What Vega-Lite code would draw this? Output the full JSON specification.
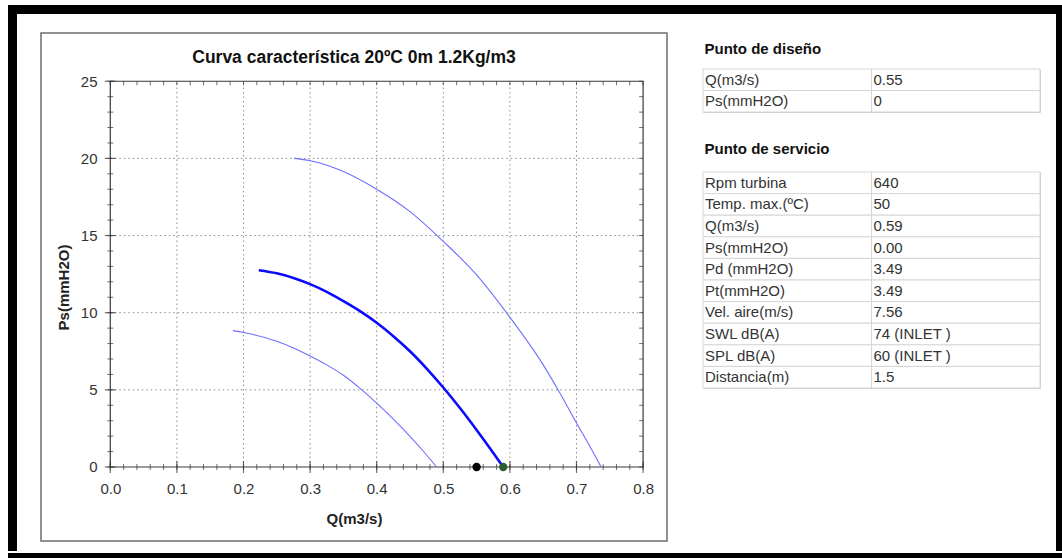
{
  "$schema": "https://vega.github.io/schema/vega-lite/v6.json",
  "background": "white",
  "padding": {"left": 8, "top": 5, "right": 0, "bottom": 0},
  "spacing": 0,
  "config": {"view": {"stroke": null}, "concat": {"spacing": 0}},
  "datasets": {
    "curves": [
      {"curve": "n1", "q": 0.184, "ps": 8.84}, {"curve": "n1", "q": 0.2, "ps": 8.72}, {"curve": "n1", "q": 0.25, "ps": 8.15}, {"curve": "n1", "q": 0.275, "ps": 7.72}, {"curve": "n1", "q": 0.3, "ps": 7.2}, {"curve": "n1", "q": 0.325, "ps": 6.62}, {"curve": "n1", "q": 0.35, "ps": 5.95}, {"curve": "n1", "q": 0.375, "ps": 5.1}, {"curve": "n1", "q": 0.4, "ps": 4.14}, {"curve": "n1", "q": 0.425, "ps": 3.1}, {"curve": "n1", "q": 0.45, "ps": 1.98}, {"curve": "n1", "q": 0.47, "ps": 1.02}, {"curve": "n1", "q": 0.49, "ps": 0},
      {"curve": "n2", "q": 0.223, "ps": 12.75}, {"curve": "n2", "q": 0.25, "ps": 12.55}, {"curve": "n2", "q": 0.275, "ps": 12.25}, {"curve": "n2", "q": 0.3, "ps": 11.85}, {"curve": "n2", "q": 0.325, "ps": 11.35}, {"curve": "n2", "q": 0.35, "ps": 10.75}, {"curve": "n2", "q": 0.375, "ps": 10.1}, {"curve": "n2", "q": 0.4, "ps": 9.35}, {"curve": "n2", "q": 0.425, "ps": 8.48}, {"curve": "n2", "q": 0.45, "ps": 7.5}, {"curve": "n2", "q": 0.475, "ps": 6.38}, {"curve": "n2", "q": 0.5, "ps": 5.15}, {"curve": "n2", "q": 0.525, "ps": 3.82}, {"curve": "n2", "q": 0.55, "ps": 2.4}, {"curve": "n2", "q": 0.57, "ps": 1.22}, {"curve": "n2", "q": 0.59, "ps": 0},
      {"curve": "n3", "q": 0.276, "ps": 20.0}, {"curve": "n3", "q": 0.3, "ps": 19.85}, {"curve": "n3", "q": 0.35, "ps": 19.15}, {"curve": "n3", "q": 0.4, "ps": 18.0}, {"curve": "n3", "q": 0.45, "ps": 16.55}, {"curve": "n3", "q": 0.5, "ps": 14.62}, {"curve": "n3", "q": 0.55, "ps": 12.45}, {"curve": "n3", "q": 0.6, "ps": 9.7}, {"curve": "n3", "q": 0.65, "ps": 6.62}, {"curve": "n3", "q": 0.675, "ps": 4.8}, {"curve": "n3", "q": 0.7, "ps": 2.85}, {"curve": "n3", "q": 0.72, "ps": 1.35}, {"curve": "n3", "q": 0.737, "ps": 0}
    ],
    "points": [
      {"punto": "diseño", "q": 0.55, "ps": 0},
      {"punto": "servicio", "q": 0.59, "ps": 0}
    ],
    "xmajor": [{"q": 0}, {"q": 0.1}, {"q": 0.2}, {"q": 0.3}, {"q": 0.4}, {"q": 0.5}, {"q": 0.6}, {"q": 0.7}, {"q": 0.8}],
    "xminor": [{"q": 0}, {"q": 0.02}, {"q": 0.04}, {"q": 0.06}, {"q": 0.08}, {"q": 0.1}, {"q": 0.12}, {"q": 0.14}, {"q": 0.16}, {"q": 0.18}, {"q": 0.2}, {"q": 0.22}, {"q": 0.24}, {"q": 0.26}, {"q": 0.28}, {"q": 0.3}, {"q": 0.32}, {"q": 0.34}, {"q": 0.36}, {"q": 0.38}, {"q": 0.4}, {"q": 0.42}, {"q": 0.44}, {"q": 0.46}, {"q": 0.48}, {"q": 0.5}, {"q": 0.52}, {"q": 0.54}, {"q": 0.56}, {"q": 0.58}, {"q": 0.6}, {"q": 0.62}, {"q": 0.64}, {"q": 0.66}, {"q": 0.68}, {"q": 0.7}, {"q": 0.72}, {"q": 0.74}, {"q": 0.76}, {"q": 0.78}, {"q": 0.8}],
    "ymajor": [{"ps": 0}, {"ps": 5}, {"ps": 10}, {"ps": 15}, {"ps": 20}, {"ps": 25}],
    "yminor": [{"ps": 0}, {"ps": 1}, {"ps": 2}, {"ps": 3}, {"ps": 4}, {"ps": 5}, {"ps": 6}, {"ps": 7}, {"ps": 8}, {"ps": 9}, {"ps": 10}, {"ps": 11}, {"ps": 12}, {"ps": 13}, {"ps": 14}, {"ps": 15}, {"ps": 16}, {"ps": 17}, {"ps": 18}, {"ps": 19}, {"ps": 20}, {"ps": 21}, {"ps": 22}, {"ps": 23}, {"ps": 24}, {"ps": 25}],
    "t1": [
      {"row": 1, "label": "Q(m3/s)", "value": "0.55"},
      {"row": 2, "label": "Ps(mmH2O)", "value": "0"}
    ],
    "t2": [
      {"row": 1, "label": "Rpm turbina", "value": "640"},
      {"row": 2, "label": "Temp. max.(ºC)", "value": "50"},
      {"row": 3, "label": "Q(m3/s)", "value": "0.59"},
      {"row": 4, "label": "Ps(mmH2O)", "value": "0.00"},
      {"row": 5, "label": "Pd (mmH2O)", "value": "3.49"},
      {"row": 6, "label": "Pt(mmH2O)", "value": "3.49"},
      {"row": 7, "label": "Vel. aire(m/s)", "value": "7.56"},
      {"row": 8, "label": "SWL dB(A)", "value": "74 (INLET )"},
      {"row": 9, "label": "SPL dB(A)", "value": "60 (INLET )"},
      {"row": 10, "label": "Distancia(m)", "value": "1.5"}
    ]
  },
  "vconcat": [
    {"width": 1054, "height": 9, "data": {"values": [{}]}, "mark": {"type": "point", "opacity": 0}, "encoding": {}, "view": {"fill": "black", "stroke": null}},
    {
      "spacing": 0,
      "hconcat": [
        {"width": 9, "height": 537, "data": {"values": [{}]}, "mark": {"type": "point", "opacity": 0}, "encoding": {}, "view": {"fill": "black", "stroke": null}},
        {"width": 23, "height": 537, "data": {"values": [{}]}, "mark": {"type": "point", "opacity": 0}, "encoding": {}},
        {
          "spacing": 0,
          "vconcat": [
            {"width": 626, "height": 18, "data": {"values": [{}]}, "mark": {"type": "point", "opacity": 0}, "encoding": {}},
            {
              "width": 626,
              "height": 508,
              "view": {"stroke": "#6e6e6e", "strokeWidth": 1.5},
              "title": {"text": "Curva característica 20ºC 0m 1.2Kg/m3", "font": "Liberation Sans", "fontSize": 17.5, "fontWeight": "bold", "color": "#111", "offset": -33, "anchor": "middle"},
              "resolve": {"axis": {"x": "independent", "y": "independent"}},
              "layer": [
                {
                  "data": {"name": "xmajor"},
                  "transform": [{"filter": "datum.q > 0.05 && datum.q < 0.75"}],
                  "mark": {"type": "rule", "color": "#8a8a8a", "strokeWidth": 1, "strokeDash": [1.5, 3]},
                  "encoding": {
                    "x": {"field": "q", "type": "quantitative", "scale": {"domain": [-0.10405, 0.83589], "nice": false, "zero": false}, "axis": null},
                    "y": {"datum": 0, "type": "quantitative", "scale": {"domain": [-4.7959, 28.127], "nice": false, "zero": false}, "axis": null},
                    "y2": {"datum": 25}
                  }
                },
                {
                  "data": {"name": "ymajor"},
                  "transform": [{"filter": "datum.ps > 2 && datum.ps < 23"}],
                  "mark": {"type": "rule", "color": "#8a8a8a", "strokeWidth": 1, "strokeDash": [1.5, 3]},
                  "encoding": {
                    "y": {"field": "ps", "type": "quantitative", "scale": {"domain": [-4.7959, 28.127], "nice": false, "zero": false}, "axis": null},
                    "x": {"datum": 0, "type": "quantitative", "scale": {"domain": [-0.10405, 0.83589], "nice": false, "zero": false}, "axis": null},
                    "x2": {"datum": 0.8}
                  }
                },
                {
                  "data": {"values": [{}]},
                  "mark": {"type": "rect", "fill": null, "stroke": "#3a3a3a", "strokeWidth": 1.2},
                  "encoding": {
                    "x": {"datum": 0, "type": "quantitative", "scale": {"domain": [-0.10405, 0.83589], "nice": false, "zero": false}, "axis": null},
                    "x2": {"datum": 0.8},
                    "y": {"datum": 0, "type": "quantitative", "scale": {"domain": [-4.7959, 28.127], "nice": false, "zero": false}, "axis": null},
                    "y2": {"datum": 25}
                  }
                },
                {
                  "data": {"name": "xminor"},
                  "mark": {"type": "tick", "orient": "vertical", "size": 6, "thickness": 1, "color": "#333"},
                  "encoding": {
                    "x": {"field": "q", "type": "quantitative", "axis": null},
                    "y": {"datum": 0, "type": "quantitative", "axis": null}
                  }
                },
                {
                  "data": {"name": "xmajor"},
                  "mark": {"type": "tick", "orient": "vertical", "size": 12, "thickness": 1.2, "color": "#333"},
                  "encoding": {
                    "x": {"field": "q", "type": "quantitative", "axis": null},
                    "y": {"datum": 0, "type": "quantitative", "axis": null}
                  }
                },
                {
                  "data": {"name": "xminor"},
                  "mark": {"type": "tick", "orient": "vertical", "size": 4, "thickness": 1, "color": "#333", "yOffset": 2},
                  "encoding": {
                    "x": {"field": "q", "type": "quantitative", "axis": null},
                    "y": {"datum": 25, "type": "quantitative", "axis": null}
                  }
                },
                {
                  "data": {"name": "yminor"},
                  "mark": {"type": "tick", "orient": "horizontal", "size": 6, "thickness": 1, "color": "#333"},
                  "encoding": {
                    "y": {"field": "ps", "type": "quantitative", "axis": null},
                    "x": {"datum": 0, "type": "quantitative", "axis": null}
                  }
                },
                {
                  "data": {"name": "ymajor"},
                  "mark": {"type": "tick", "orient": "horizontal", "size": 11, "thickness": 1.2, "color": "#333"},
                  "encoding": {
                    "y": {"field": "ps", "type": "quantitative", "axis": null},
                    "x": {"datum": 0, "type": "quantitative", "axis": null}
                  }
                },
                {
                  "data": {"name": "yminor"},
                  "mark": {"type": "tick", "orient": "horizontal", "size": 4, "thickness": 1, "color": "#333", "xOffset": -2},
                  "encoding": {
                    "y": {"field": "ps", "type": "quantitative", "axis": null},
                    "x": {"datum": 0.8, "type": "quantitative", "axis": null}
                  }
                },
                {
                  "data": {"name": "curves"},
                  "transform": [{"filter": "datum.curve !== 'n2'"}],
                  "mark": {"type": "line", "color": "#6f6fff", "strokeWidth": 1.1, "interpolate": "monotone"},
                  "encoding": {
                    "x": {"field": "q", "type": "quantitative", "scale": {"domain": [-0.10405, 0.83589], "nice": false, "zero": false},
                      "axis": {"orient": "bottom", "offset": -74, "values": [0, 0.1, 0.2, 0.3, 0.4, 0.5, 0.6, 0.7, 0.8], "format": ".1f", "domain": false, "grid": false, "ticks": true, "tickSize": 6, "tickOpacity": 0, "labelFlush": false, "labelOverlap": false, "labelFont": "Liberation Sans", "labelFontSize": 15, "labelColor": "#333", "labelPadding": 8, "title": "Q(m3/s)", "titleFont": "Liberation Sans", "titleFontSize": 15, "titleFontWeight": "bold", "titleColor": "#222", "titlePadding": 15}},
                    "y": {"field": "ps", "type": "quantitative", "scale": {"domain": [-4.7959, 28.127], "nice": false, "zero": false},
                      "axis": {"orient": "left", "offset": -69, "values": [0, 5, 10, 15, 20, 25], "domain": false, "grid": false, "ticks": true, "tickSize": 6, "tickOpacity": 0, "labelFlush": false, "labelOverlap": false, "labelFont": "Liberation Sans", "labelFontSize": 15, "labelColor": "#333", "labelPadding": 7, "title": "Ps(mmH2O)", "titleFont": "Liberation Sans", "titleFontSize": 15, "titleFontWeight": "bold", "titleColor": "#222", "titlePadding": 9}},
                    "detail": {"field": "curve"}
                  }
                },
                {
                  "data": {"name": "curves"},
                  "transform": [{"filter": "datum.curve === 'n2'"}],
                  "mark": {"type": "line", "color": "#0a0aff", "strokeWidth": 2.6, "interpolate": "monotone"},
                  "encoding": {
                    "x": {"field": "q", "type": "quantitative", "axis": null},
                    "y": {"field": "ps", "type": "quantitative", "axis": null}
                  }
                },
                {
                  "data": {"name": "points"},
                  "mark": {"type": "circle", "size": 70, "opacity": 1},
                  "encoding": {
                    "x": {"field": "q", "type": "quantitative", "axis": null},
                    "y": {"field": "ps", "type": "quantitative", "axis": null},
                    "color": {"field": "punto", "type": "nominal", "scale": {"domain": ["diseño", "servicio"], "range": ["#000000", "#2e5e32"]}, "legend": null}
                  }
                }
              ]
            },
            {"width": 626, "height": 11, "data": {"values": [{}]}, "mark": {"type": "point", "opacity": 0}, "encoding": {}}
          ]
        },
        {"width": 34, "height": 537, "data": {"values": [{}]}, "mark": {"type": "point", "opacity": 0}, "encoding": {}},
        {
          "spacing": 0,
          "vconcat": [
            {"width": 337, "height": 27, "data": {"values": [{}]}, "mark": {"type": "point", "opacity": 0}, "encoding": {}},
            {
              "width": 337,
              "height": 43,
              "view": {"stroke": "#cfcfcf"},
              "title": {"text": "Punto de diseño", "anchor": "start", "dx": 2, "font": "Liberation Sans", "fontSize": 15, "fontWeight": "bold", "color": "#111", "offset": 12},
              "data": {"name": "t1"},
              "transform": [{"fold": ["label", "value"], "as": ["col", "txt"]}],
              "encoding": {
                "y": {"field": "row", "type": "ordinal", "axis": null, "scale": {"paddingInner": 0, "paddingOuter": 0}},
                "x": {"field": "col", "type": "nominal", "axis": null, "scale": {"paddingInner": 0, "paddingOuter": 0}}
              },
              "layer": [
                {"mark": {"type": "rect", "fill": "white", "stroke": "#d6d6d6", "strokeWidth": 1}},
                {"mark": {"type": "text", "align": "left", "dx": 2, "font": "Liberation Sans", "fontSize": 15, "color": "#333"},
                 "encoding": {"x": {"field": "col", "type": "nominal", "bandPosition": 0, "axis": null}, "text": {"field": "txt"}}}
              ]
            },
            {"width": 337, "height": 27.5, "data": {"values": [{}]}, "mark": {"type": "point", "opacity": 0}, "encoding": {}},
            {
              "width": 337,
              "height": 216,
              "view": {"stroke": "#cfcfcf"},
              "title": {"text": "Punto de servicio", "anchor": "start", "dx": 2, "font": "Liberation Sans", "fontSize": 15, "fontWeight": "bold", "color": "#111", "offset": 14.5},
              "data": {"name": "t2"},
              "transform": [{"fold": ["label", "value"], "as": ["col", "txt"]}],
              "encoding": {
                "y": {"field": "row", "type": "ordinal", "axis": null, "scale": {"paddingInner": 0, "paddingOuter": 0}},
                "x": {"field": "col", "type": "nominal", "axis": null, "scale": {"paddingInner": 0, "paddingOuter": 0}}
              },
              "layer": [
                {"mark": {"type": "rect", "fill": "white", "stroke": "#d6d6d6", "strokeWidth": 1}},
                {"mark": {"type": "text", "align": "left", "dx": 2, "font": "Liberation Sans", "fontSize": 15, "color": "#333"},
                 "encoding": {"x": {"field": "col", "type": "nominal", "bandPosition": 0, "axis": null}, "text": {"field": "txt"}}}
              ]
            }
          ]
        },
        {"width": 15, "height": 537, "data": {"values": [{}]}, "mark": {"type": "point", "opacity": 0}, "encoding": {}},
        {"width": 10, "height": 537, "data": {"values": [{}]}, "mark": {"type": "point", "opacity": 0}, "encoding": {}, "view": {"fill": "black", "stroke": null}}
      ]
    },
    {"width": 1054, "height": 7, "data": {"values": [{}]}, "mark": {"type": "point", "opacity": 0}, "encoding": {}, "view": {"fill": "black", "stroke": null}}
  ]
}
